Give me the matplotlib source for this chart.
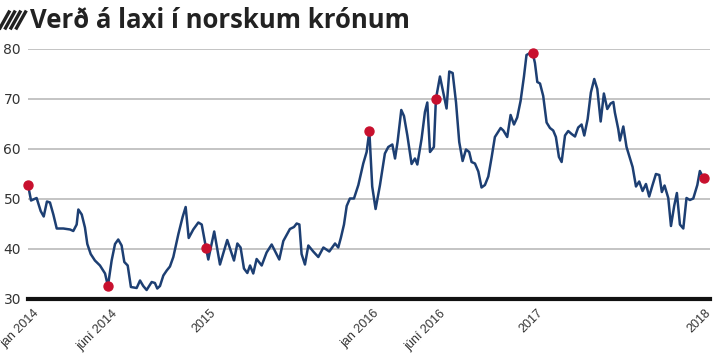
import matplotlib.pyplot as plt
import matplotlib.transforms as mtransforms
from matplotlib.lines import Line2D

# price of salmon, NOK per kg
years = [
    2014.000, 2014.018, 2014.051, 2014.075, 2014.093, 2014.112, 2014.130, 2014.150,
    2014.170, 2014.209, 2014.249, 2014.268, 2014.288, 2014.298, 2014.318, 2014.337,
    2014.351, 2014.371, 2014.396, 2014.426, 2014.456, 2014.473, 2014.495, 2014.515,
    2014.534, 2014.554, 2014.570, 2014.590, 2014.609, 2014.643, 2014.663, 2014.682,
    2014.702, 2014.732, 2014.751, 2014.765, 2014.781, 2014.801, 2014.821, 2014.840,
    2014.860, 2014.890, 2014.915, 2014.933, 2014.951, 2014.978, 2015.008, 2015.028,
    2015.053, 2015.067, 2015.102, 2015.136, 2015.179, 2015.219, 2015.239, 2015.258,
    2015.278, 2015.298, 2015.314, 2015.333, 2015.353, 2015.383, 2015.412, 2015.442,
    2015.487, 2015.511, 2015.550, 2015.574, 2015.590, 2015.606, 2015.619, 2015.639,
    2015.659, 2015.688, 2015.718, 2015.748, 2015.783, 2015.817, 2015.836, 2015.852,
    2015.870, 2015.886, 2015.905, 2015.929, 2015.955, 2015.984, 2016.004, 2016.020,
    2016.037, 2016.057, 2016.083, 2016.112, 2016.132, 2016.156, 2016.172, 2016.187,
    2016.209, 2016.225, 2016.245, 2016.270, 2016.290, 2016.304, 2016.329, 2016.349,
    2016.363, 2016.379, 2016.402, 2016.414, 2016.438, 2016.458, 2016.477, 2016.493,
    2016.513, 2016.533, 2016.552, 2016.572, 2016.592, 2016.611, 2016.625, 2016.645,
    2016.665, 2016.684, 2016.704, 2016.724, 2016.744, 2016.763, 2016.797, 2016.813,
    2016.836, 2016.856, 2016.876, 2016.895, 2016.915, 2016.935, 2016.950, 2016.966,
    2016.986, 2017.000, 2017.014, 2017.030, 2017.049, 2017.069, 2017.089, 2017.108,
    2017.124, 2017.142, 2017.158, 2017.178, 2017.197, 2017.217, 2017.237, 2017.256,
    2017.276, 2017.292, 2017.312, 2017.331, 2017.351, 2017.369, 2017.389, 2017.408,
    2017.428, 2017.448, 2017.464, 2017.473, 2017.493, 2017.503, 2017.523, 2017.542,
    2017.578, 2017.598, 2017.617, 2017.637, 2017.657, 2017.676, 2017.696, 2017.716,
    2017.736, 2017.751, 2017.767, 2017.789, 2017.805, 2017.824, 2017.840, 2017.858,
    2017.878, 2017.897, 2017.917, 2017.937, 2017.961, 2017.976, 2017.988, 2018.000,
]
prices = [
    52.8, 49.7, 50.2, 47.6, 46.5, 49.5, 49.3, 46.9,
    44.1, 44.1, 43.9, 43.6, 44.9, 47.9, 46.9, 44.3,
    41.0, 39.0, 37.7, 36.7, 35.1, 32.6, 37.7, 41.0,
    41.9, 40.7, 37.4, 36.7, 32.4, 32.2, 33.7, 32.6,
    31.8, 33.4, 33.2, 32.1, 32.6, 34.7, 35.7, 36.5,
    38.4, 43.0, 46.4, 48.4, 42.2, 43.9, 45.3, 44.9,
    40.3, 37.9, 43.5, 36.9, 41.8, 37.7, 41.1, 40.3,
    36.1, 35.2, 36.7, 35.1, 38.0, 36.7, 39.3, 40.9,
    37.9, 41.6, 44.0, 44.4, 45.1, 44.9, 39.0, 36.9,
    40.7, 39.5, 38.4, 40.3, 39.5, 41.1, 40.3, 42.3,
    44.9, 48.6, 50.1, 50.1, 52.8, 57.1, 59.4, 63.6,
    52.5, 48.0, 52.8, 59.1, 60.4, 60.9, 58.1, 61.4,
    67.8, 66.6, 62.7, 57.0, 58.1, 56.9, 62.0, 67.4,
    69.3, 59.4, 60.4, 70.0, 74.5, 71.2, 68.1, 75.5,
    75.2, 69.3, 61.4, 57.6, 59.9, 59.4, 57.4, 57.1,
    55.5, 52.3, 52.8, 54.5, 58.4, 62.4, 64.2, 63.7,
    62.4, 66.8, 64.9, 66.3, 69.6, 74.5, 78.8, 79.1,
    79.3, 77.2, 73.4, 73.1, 70.6, 65.3, 64.2, 63.7,
    62.4, 58.4, 57.4, 62.7, 63.6, 63.0, 62.5, 64.3,
    64.9, 62.7, 66.0, 71.3, 74.0, 72.0, 65.5, 71.1,
    68.0, 69.1, 69.4, 67.3, 64.0, 61.7, 64.5, 60.4,
    56.4, 52.5, 53.5, 51.6, 53.0, 50.5, 52.8, 55.0,
    54.8, 51.4, 52.7, 50.2, 44.6, 48.6, 51.2, 44.9,
    44.1, 50.2, 49.8, 50.1, 52.8, 55.6, 54.8, 54.2,
]

# highlighted points, also used as x tick positions
dot_years = [2014.000, 2014.473, 2015.053, 2016.020, 2016.414, 2016.986, 2018.000]
dot_prices = [52.8, 32.6, 40.3, 63.6, 70.0, 79.3, 54.2]
tick_labels = ['jan 2014', 'júní 2014', '2015', 'jan 2016', 'júní 2016', '2017', '2018']
y_ticks = [30, 40, 50, 60, 70, 80]

W, H = 713, 355
fig = plt.figure(figsize=(W / 100, H / 100), dpi=100)
ax = fig.add_axes([28 / W, 1 - 299 / H, 682 / W, 250 / H])

ax.plot(years, prices, color='#1d3f73', lw=1.8, zorder=3)
ax.scatter(dot_years, dot_prices, s=42, color='#c8102e', zorder=4, clip_on=False)

ax.set_xlim(2014.0, 2018.036)
ax.set_ylim(30, 80)
ax.set_yticks(y_ticks)
ax.set_yticklabels([str(v) for v in y_ticks], fontsize=10, color='#333333')
ax.grid(axis='y', color='#c4c4c4', lw=1.4, zorder=1)
ax.tick_params(axis='y', length=0, pad=5)

ax.set_xticks(dot_years)
ax.set_xticklabels(tick_labels, rotation=45, ha='right', rotation_mode='anchor',
                   fontsize=9, family='Liberation Sans', color='#333333')
ax.tick_params(axis='x', length=0, pad=6)
# the label ends sit a few pixels right of the tick in the original
shifts_px = [5, 4, 4, 4, 4, 4, 1]
for lab, dx in zip(ax.get_xticklabels(), shifts_px):
    shift = mtransforms.ScaledTranslation(dx / 100, 0, fig.dpi_scale_trans)
    lab.set_transform(lab.get_transform() + shift)

for s in ['top', 'right', 'left']:
    ax.spines[s].set_visible(False)
ax.spines['bottom'].set_linewidth(3)
ax.spines['bottom'].set_color('#111111')
ax.spines['bottom'].set_zorder(5)

# title with hatched icon
for i in range(4):
    x0 = 0 + i * 5.5
    fig.add_artist(Line2D([x0 / W, (x0 + 9) / W], [1 - 28 / H, 1 - 12 / H],
                          color='#222222', lw=2.4))
fig.text(30 / W, 1 - 20 / H, 'Verð á laxi í norskum krónum', fontsize=18.5,
         fontweight='bold', family='Open Sans', color='#222222', va='center')

fig.savefig('out.png', dpi=100)
